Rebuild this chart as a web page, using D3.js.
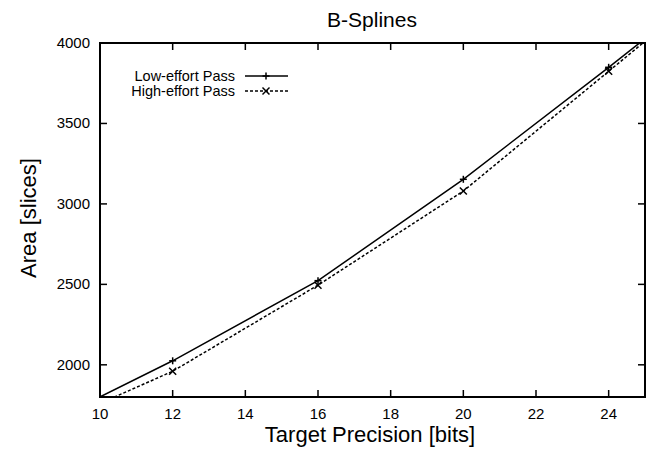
<!DOCTYPE html>
<html>
<head>
<meta charset="utf-8">
<script src="https://cdnjs.cloudflare.com/ajax/libs/d3/7.8.5/d3.min.js"></script>
<style>
  body { margin: 0; background: #fff; }
  text { font-family: "Liberation Sans", Arial, sans-serif; fill: #000; }
</style>
</head>
<body>
<svg id="chart" width="647" height="449"></svg>
<script>
// data (points at 8 and 28 only carry the lines to the frame)
var bits = [8, 12, 16, 20, 24, 28];
var lowEffort = [1576, 2025, 2523, 3153, 3849, 4560];
var highEffort = [1560, 1960, 2495, 3080, 3824, 4570];
var markerBits = [12, 16, 20, 24];
var xTicks = [10, 12, 14, 16, 18, 20, 22, 24];
var yTicks = [2000, 2500, 3000, 3500, 4000];

var svg = d3.select("#chart");
var plotLeft = 100, plotRight = 645, plotTop = 43, plotBottom = 397;

var x = d3.scaleLinear().domain([10, 25]).range([plotLeft, plotRight]);
var y = d3.scaleLinear().domain([1800, 4000]).range([plotBottom, plotTop]);

//clip for the series
svg.append("clipPath").attr("id", "clip")
    .append("rect")
    .attr("x", plotLeft).attr("y", plotTop)
    .attr("width", plotRight - plotLeft).attr("height", plotBottom - plotTop);

//ticks on all four sides, pointing inward
xTicks.forEach(function(t) {
    svg.append("line").attr("x1", x(t)).attr("x2", x(t))
        .attr("y1", plotBottom).attr("y2", plotBottom - 7)
        .attr("stroke", "black").attr("stroke-width", 1.5);
    svg.append("line").attr("x1", x(t)).attr("x2", x(t))
        .attr("y1", plotTop).attr("y2", plotTop + 7)
        .attr("stroke", "black").attr("stroke-width", 1.5);
    svg.append("text").attr("x", x(t)).attr("y", plotBottom + 22)
        .attr("text-anchor", "middle").attr("font-size", 15).text(t);
});
yTicks.forEach(function(t) {
    svg.append("line").attr("x1", plotLeft).attr("x2", plotLeft + 7)
        .attr("y1", y(t)).attr("y2", y(t))
        .attr("stroke", "black").attr("stroke-width", 1.5);
    svg.append("line").attr("x1", plotRight).attr("x2", plotRight - 7)
        .attr("y1", y(t)).attr("y2", y(t))
        .attr("stroke", "black").attr("stroke-width", 1.5);
    svg.append("text").attr("x", plotLeft - 10).attr("y", y(t) + 5)
        .attr("text-anchor", "end").attr("font-size", 15).text(t);
});

//frame
svg.append("rect")
    .attr("x", plotLeft).attr("y", plotTop)
    .attr("width", plotRight - plotLeft).attr("height", plotBottom - plotTop)
    .attr("fill", "none").attr("stroke", "black").attr("stroke-width", 2);

var line = d3.line().x(d => x(d[0])).y(d => y(d[1]));

var series = [
    {name: "Low-effort Pass", values: lowEffort, dash: null, marker: "plus"},
    {name: "High-effort Pass", values: highEffort, dash: "3,2", marker: "cross"}
];

function drawMarker(g, cx, cy, type) {
    var s = 3.5;
    if (type == "plus") {
        g.append("line").attr("x1", cx - s).attr("x2", cx + s).attr("y1", cy).attr("y2", cy);
        g.append("line").attr("x1", cx).attr("x2", cx).attr("y1", cy - s).attr("y2", cy + s);
    } else {
        g.append("line").attr("x1", cx - s).attr("x2", cx + s).attr("y1", cy - s).attr("y2", cy + s);
        g.append("line").attr("x1", cx + s).attr("x2", cx - s).attr("y1", cy - s).attr("y2", cy + s);
    }
}

series.forEach(function(s, i) {
    var pts = bits.map((b, j) => [b, s.values[j]]);
    svg.append("path")
        .attr("d", line(pts))
        .attr("clip-path", "url(#clip)")
        .attr("fill", "none").attr("stroke", "black")
        .attr("stroke-width", 1.5)
        .attr("stroke-dasharray", s.dash);

    var mg = svg.append("g").attr("stroke", "black").attr("stroke-width", 1.5);
    pts.filter(p => markerBits.indexOf(p[0]) >= 0).forEach(function(p) {
        drawMarker(mg, x(p[0]), y(p[1]), s.marker);
    });

    //legend entry
    var ly = 76 + i * 15;
    svg.append("text").attr("x", 235).attr("y", ly + 5)
        .attr("text-anchor", "end").attr("font-size", 14.5).text(s.name);
    svg.append("line").attr("x1", 245).attr("x2", 288)
        .attr("y1", ly).attr("y2", ly)
        .attr("stroke", "black").attr("stroke-width", 1.5)
        .attr("stroke-dasharray", s.dash);
    var lg = svg.append("g").attr("stroke", "black").attr("stroke-width", 1.5);
    drawMarker(lg, 266, ly, s.marker);
});

//titles
svg.append("text").attr("x", 372).attr("y", 27)
    .attr("text-anchor", "middle").attr("font-size", 21).text("B-Splines");
svg.append("text").attr("x", 370).attr("y", 442)
    .attr("text-anchor", "middle").attr("font-size", 22).text("Target Precision [bits]");
svg.append("text")
    .attr("transform", "translate(36,218) rotate(-90)")
    .attr("text-anchor", "middle").attr("font-size", 22).text("Area [slices]");
</script>
</body>
</html>
